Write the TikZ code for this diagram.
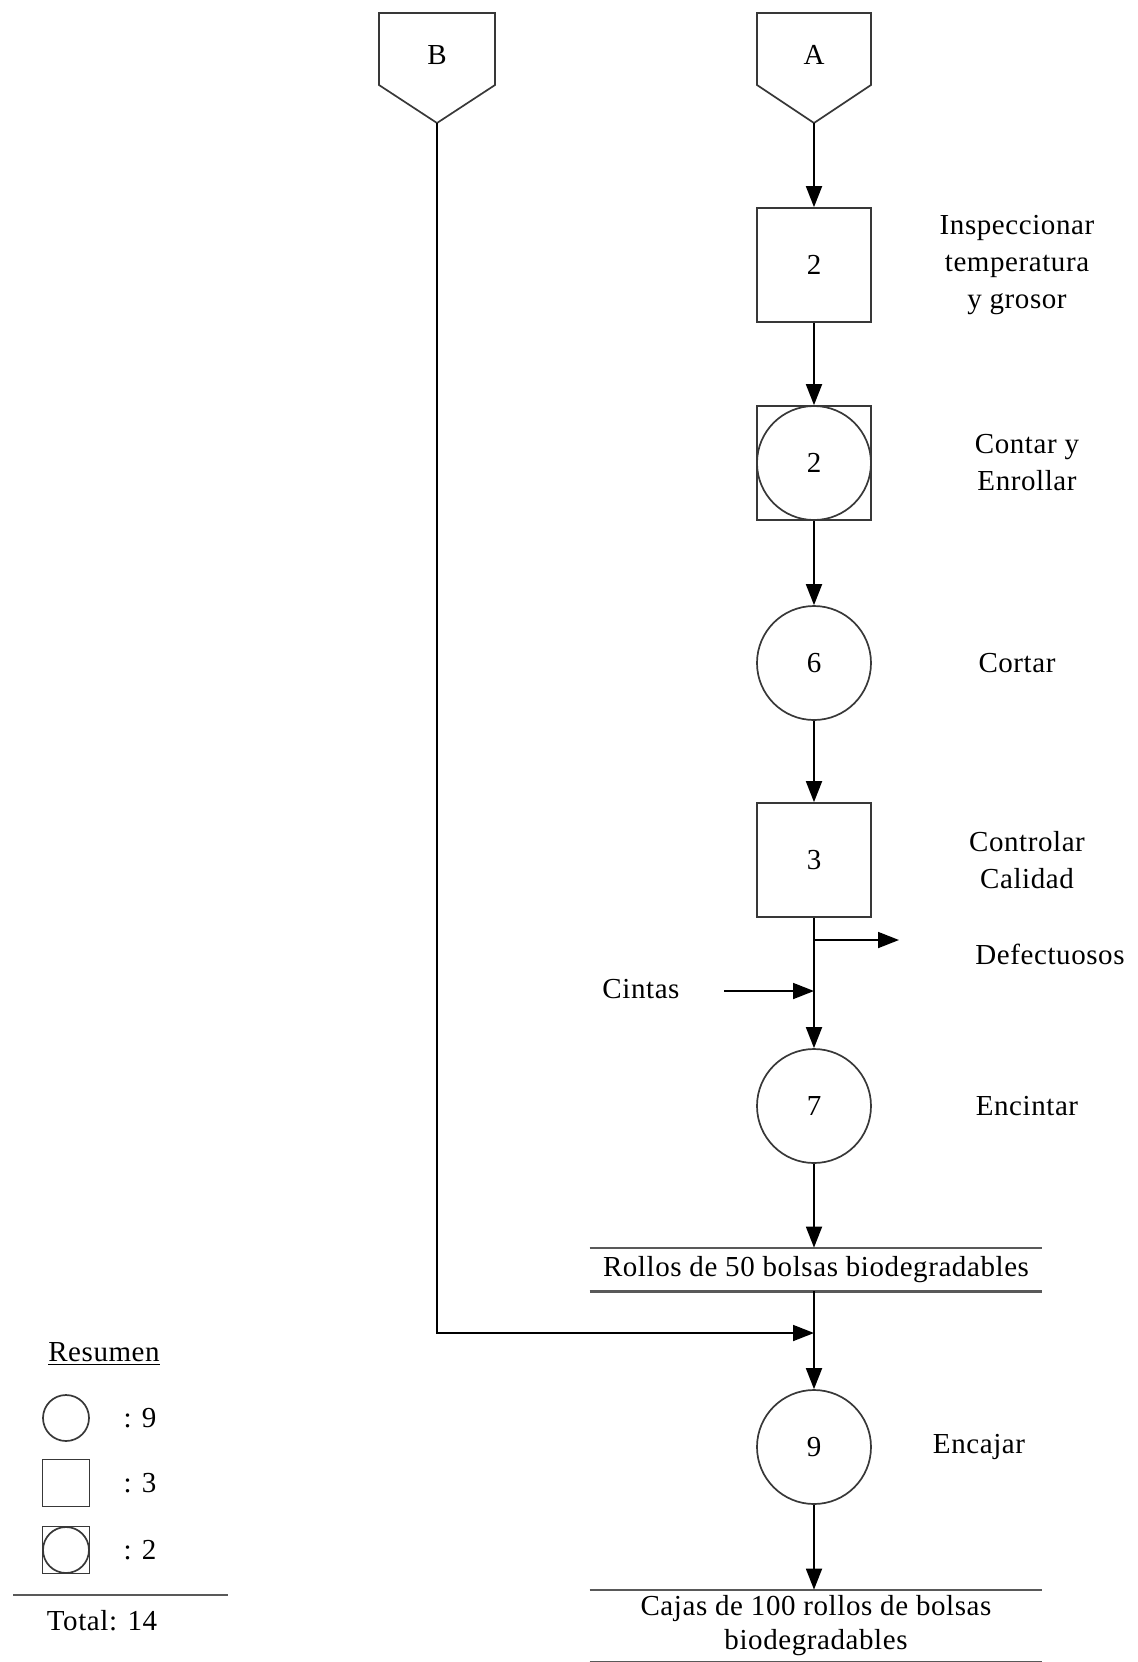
\documentclass[tikz,border=0pt]{standalone}
\usepackage{fontspec}
\setmainfont{Liberation Serif}[LetterSpace=2.0]
\usetikzlibrary{arrows.meta}
\begin{document}
\begin{tikzpicture}[x=0.5pt,y=-0.5pt,
  font=\fontsize{14.5}{18.5}\selectfont,
  outline/.style={draw=black!78, line width=0.85pt},
  opcircle/.style={outline, circle, minimum size=57pt, inner sep=0pt},
  inspbox/.style={outline, rectangle, minimum size=57pt, inner sep=0pt},
  legcircle/.style={outline, circle, minimum size=23pt, inner sep=0pt},
  legbox/.style={outline, rectangle, minimum size=23.5pt, inner sep=0pt},
  flow/.style={draw=black, line width=0.9pt, -{Triangle[length=10.5pt,width=8pt]}},
  storeline/.style={draw=black!65, line width=1.1pt},
  store/.style={minimum width=226pt, inner sep=0pt, align=center},
  lbl/.style={align=center}]
\useasboundingbox (0,0) rectangle (1138,1662);

% off-page connectors
\node (B) at (437,55) {B};
\node (A) at (814,55) {A};
\draw[outline] ([shift={(-58,-42)}]B.center) -- ++(116,0) -- ++(0,72) -- ++(-58,38) -- ++(-58,-38) -- cycle;
\draw[outline] ([shift={(-57,-42)}]A.center) -- ++(114,0) -- ++(0,72) -- ++(-57,38) -- ++(-57,-38) -- cycle;
\coordinate (Btip) at ([shift={(0,68)}]B.center);
\coordinate (Atip) at ([shift={(0,68)}]A.center);

% process symbols
\node[inspbox] (i2) at (814,265) {2};
\node[inspbox] (comb) at (814,463) {2};
\node[opcircle] (combc) at (comb.center) {};
\node[opcircle] (o6) at (814,663) {6};
\node[inspbox] (i3) at (814,860) {3};
\node[opcircle] (o7) at (814,1106) {7};
\node[opcircle] (o9) at (814,1447) {9};

% storage points
\node[store, minimum height=21.5pt] (rollos) at (816,1269.5) {Rollos de 50 bolsas biodegradables};
\draw[storeline] (rollos.north west) -- (rollos.north east);
\draw[storeline] (rollos.south west) -- (rollos.south east);
\node[store, minimum height=36pt, font=\fontsize{14.5}{17}\selectfont] (cajas) at (816,1626) {Cajas de 100 rollos de bolsas\\biodegradables};
\draw[storeline] (cajas.north west) -- (cajas.north east);
\draw[storeline] (cajas.south west) -- (cajas.south east);

% step labels
\node[lbl] (t1) at (1017,265) {Inspeccionar\\temperatura\\y grosor};
\node[lbl] (t2) at (1027,463) {Contar y\\Enrollar};
\node[lbl] (t3) at (1017,663) {Cortar};
\node[lbl] (t4) at (1027,860) {Controlar\\Calidad};
\node[lbl] (t5) at (1027,1106) {Encintar};
\node[lbl] (t6) at (979,1447) {Encajar};
\node (defect) at (1050,954) {Defectuosos};
\node (cintas) at (641,989) {Cintas};

% flow connectors
\draw[flow] (Atip) -- (i2.north);
\draw[flow] (i2.south) -- (comb.north);
\draw[flow] (comb.south) -- (o6.north);
\draw[flow] (o6.south) -- (i3.north);
\draw[flow] (i3.south) -- (o7.north);
\coordinate (defj) at (814,940);
\coordinate (defend) at (899,940);
\draw[flow] (defj) -- (defend);
\coordinate (cintj) at (814,991);
\draw[flow] (724,991) -- (cintj);
\draw[flow] (o7.south) -- (o7.south |- rollos.north);
\draw[flow] (rollos.south -| o9.north) -- (o9.north);
\coordinate (bjoin) at (814,1333);
\draw[flow] (Btip) |- (bjoin);
\draw[flow] (o9.south) -- (o9.south |- cajas.north);

% summary
\node (res) at (104,1354) {\underline{Resumen}};
\node[legcircle] (legc) at (66,1418) {};
\node (legct) at (140,1418) {: 9};
\node[legbox] (legs) at (66,1483) {};
\node (legst) at (140,1483) {: 3};
\node[legbox] (legcs) at (66,1550) {};
\node[legcircle] (legcsc) at (legcs.center) {};
\node (legcst) at (140,1550) {: 2};
\coordinate (sumL) at (13,1595);
\coordinate (sumR) at (228,1595);
\draw[storeline] (sumL) -- (sumR);
\node (total) at (102,1621) {Total: 14};
\end{tikzpicture}
\end{document}
